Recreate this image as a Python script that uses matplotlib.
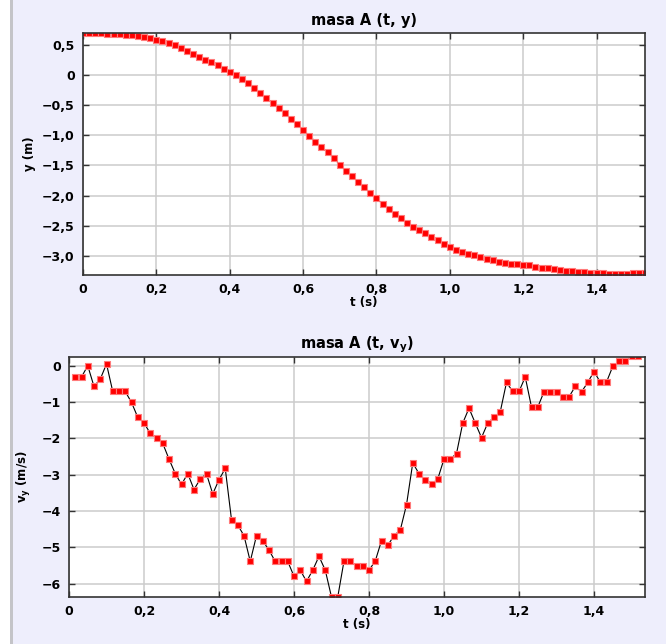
import matplotlib
matplotlib.use("Agg")
import matplotlib.pyplot as plt
from matplotlib.ticker import FuncFormatter, FixedLocator
from matplotlib.patches import Rectangle

# ---------------- data ----------------
dt = 1.0 / 60.0
y_pos = [0.700, 0.697, 0.693, 0.692, 0.684, 0.679, 0.679, 0.670, 0.660, 0.650,
         0.637, 0.616, 0.592, 0.563, 0.531, 0.496, 0.455, 0.408, 0.355, 0.308,
         0.254, 0.210, 0.163, 0.107, 0.055, 0.008, -0.061, -0.134, -0.212, -0.302,
         -0.380, -0.460, -0.545, -0.635, -0.725, -0.815, -0.911, -1.005, -1.104, -1.198,
         -1.285, -1.379, -1.485, -1.591, -1.681, -1.771, -1.863, -1.955, -2.048, -2.138,
         -2.218, -2.301, -2.381, -2.458, -2.525, -2.575, -2.628, -2.684, -2.743, -2.800,
         -2.852, -2.900, -2.942, -2.970, -2.991, -3.018, -3.051, -3.079, -3.102, -3.123,
         -3.131, -3.143, -3.155, -3.160, -3.179, -3.198, -3.210, -3.222, -3.234, -3.248,
         -3.260, -3.268, -3.278, -3.285, -3.288, -3.295, -3.303, -3.305, -3.302, -3.298,
         -3.293, -3.288, -3.285]
t_pos = [k * dt for k in range(len(y_pos))]

v_y = [-0.31, -0.31, 0.00, -0.57, -0.37, 0.05, -0.71, -0.71, -0.71, -1.01,
       -1.42, -1.58, -1.86, -1.98, -2.14, -2.57, -2.97, -3.27, -2.97, -3.41,
       -3.12, -2.98, -3.53, -3.14, -2.83, -4.24, -4.39, -4.68, -5.39, -4.68,
       -4.82, -5.08, -5.39, -5.39, -5.39, -5.80, -5.63, -5.94, -5.63, -5.25,
       -5.63, -6.37, -6.37, -5.38, -5.38, -5.52, -5.52, -5.63, -5.38, -4.82,
       -4.95, -4.68, -4.53, -3.83, -2.68, -2.97, -3.14, -3.27, -3.12, -2.57,
       -2.57, -2.42, -1.58, -1.17, -1.58, -1.98, -1.58, -1.42, -1.27, -0.46,
       -0.71, -0.71, -0.31, -1.14, -1.14, -0.72, -0.72, -0.72, -0.86, -0.86,
       -0.57, -0.72, -0.46, -0.16, -0.45, -0.45, -0.02, 0.12, 0.12, 0.26,
       0.26]
t_vel = [(k + 1) * dt for k in range(len(v_y))]

x_ticks = [0, 0.2, 0.4, 0.6, 0.8, 1.0, 1.2, 1.4]
y_ticks_top = [0.5, 0, -0.5, -1.0, -1.5, -2.0, -2.5, -3.0]
y_ticks_bot = [0, -1, -2, -3, -4, -5, -6]

title_top = "masa A (t, y)"
title_bot = r"masa A (t, v$_\mathbf{y}$)"
xlabel = "t (s)"
ylabel_top = "y (m)"
ylabel_bot = r"v$_\mathbf{y}$ (m/s)"

# ---------------- style ----------------
plt.rcParams['font.family'] = ['DejaVu Sans']
plt.rcParams['font.weight'] = 'bold'
plt.rcParams['mathtext.default'] = 'bf'

BG = '#eeeefc'
fig = plt.figure(figsize=(6.66, 6.44), dpi=100, facecolor=BG)

# left border strip
fig.patches.append(Rectangle((0, 0), 9.5 / 666, 1, transform=fig.transFigure,
                             facecolor='white', edgecolor='none', zorder=0))
fig.patches.append(Rectangle((9.5 / 666, 0), 3.5 / 666, 1, transform=fig.transFigure,
                             facecolor='#c4c4c8', edgecolor='none', zorder=0))


def fmt1(v, pos):
    if abs(v) < 1e-9:
        return "0"
    s = f"{abs(v):.1f}".replace('.', ',')
    return ("\u2212" + s) if v < 0 else s


def fmt0(v, pos):
    if abs(v) < 1e-9:
        return "0"
    s = f"{abs(v):.0f}"
    return ("\u2212" + s) if v < 0 else s


def style_axes(ax):
    ax.set_facecolor('white')
    ax.grid(True, color='#cccccc', linewidth=1.1)
    ax.set_axisbelow(True)
    for sp in ax.spines.values():
        sp.set_color('#333333')
        sp.set_linewidth(1.2)
    ax.tick_params(direction='in', length=4, width=1.0, color='#333333',
                   top=True, right=True, labelsize=9, pad=6)
    for lab in ax.get_xticklabels() + ax.get_yticklabels():
        lab.set_fontweight('bold')


mk = dict(color='black', linewidth=0.8, marker='s', markersize=4.6,
          markerfacecolor='#ff0000', markeredgecolor='#ff7a7a', markeredgewidth=0.8)

# top axes
ax1 = fig.add_axes([83 / 666, 1 - 275 / 644, 562 / 666, 242 / 644])
ax1.plot(t_pos, y_pos, **mk)
ax1.set_xlim(0, 1.532)
ax1.set_ylim(-3.32, 0.70)
ax1.xaxis.set_major_locator(FixedLocator(x_ticks))
ax1.yaxis.set_major_locator(FixedLocator(y_ticks_top))
ax1.xaxis.set_major_formatter(FuncFormatter(fmt1))
ax1.yaxis.set_major_formatter(FuncFormatter(fmt1))
style_axes(ax1)
ax1.set_title(title_top, fontsize=10.5, fontweight='bold', pad=6)
ax1.set_xlabel(xlabel, fontsize=8.5, fontweight='bold', labelpad=0)
ax1.set_ylabel(ylabel_top, fontsize=8.5, fontweight='bold', labelpad=4)

# bottom axes
ax2 = fig.add_axes([69 / 666, 1 - 597 / 644, 576 / 666, 240 / 644])
ax2.plot(t_vel, v_y, **mk)
ax2.set_xlim(0, 1.536)
ax2.set_ylim(-6.37, 0.24)
ax2.xaxis.set_major_locator(FixedLocator(x_ticks))
ax2.yaxis.set_major_locator(FixedLocator(y_ticks_bot))
ax2.xaxis.set_major_formatter(FuncFormatter(fmt1))
ax2.yaxis.set_major_formatter(FuncFormatter(fmt0))
style_axes(ax2)
ax2.set_title(title_bot, fontsize=10.5, fontweight='bold', pad=6)
ax2.set_xlabel(xlabel, fontsize=8.5, fontweight='bold', labelpad=0)
ax2.set_ylabel(ylabel_bot, fontsize=8.5, fontweight='bold', labelpad=6)

fig.savefig("out.png", dpi=100, facecolor=BG)
